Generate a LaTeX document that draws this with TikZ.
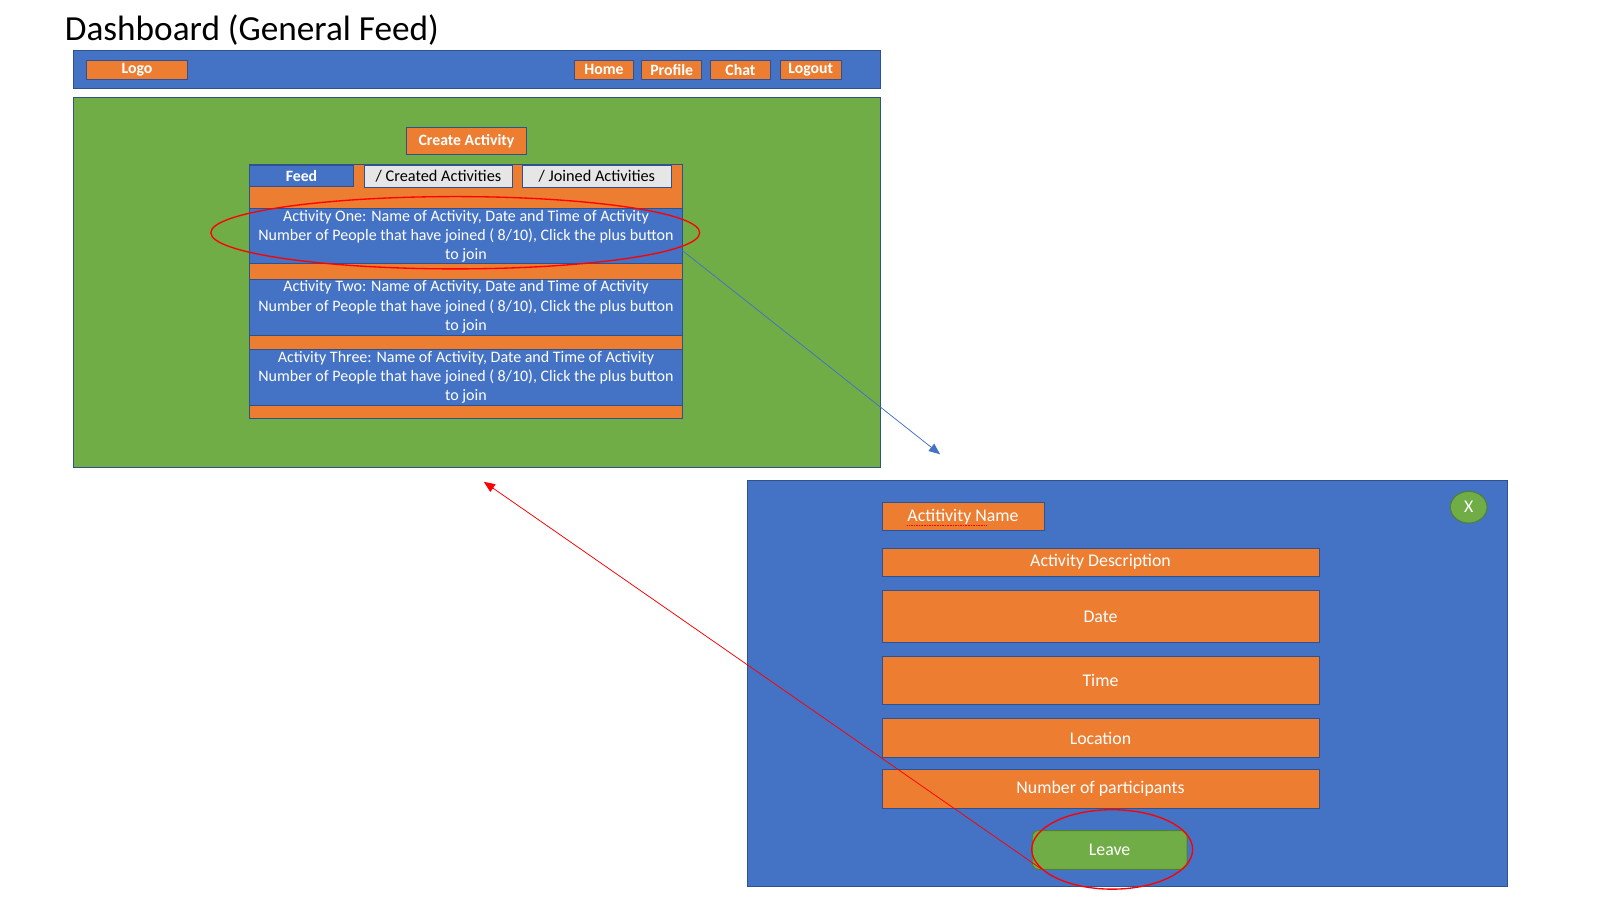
\documentclass[tikz,border=0pt]{standalone}
\usepackage{fontspec}
\setmainfont{Carlito}
\usetikzlibrary{arrows.meta,shapes.geometric}
\definecolor{pblue}{HTML}{4472C4}
\definecolor{pborder}{HTML}{2F528F}
\definecolor{porange}{HTML}{ED7D31}
\definecolor{pgreen}{HTML}{70AD47}
\definecolor{pgborder}{HTML}{507E32}
\definecolor{pgray}{HTML}{E7E6E6}
\definecolor{pred}{HTML}{FF0000}
\tikzset{
  base/.style={rectangle, draw=pborder, line width=0.9pt, inner sep=0pt, outer sep=0pt, align=center},
  bluebox/.style={base, fill=pblue, text=white},
  orangebox/.style={base, fill=porange, text=white},
  greenbox/.style={base, fill=pgreen, text=white},
  graybox/.style={base, fill=pgray, text=black},
  navtxt/.style={font=\fontsize{15.5}{18}\selectfont\bfseries},
  tabtxt/.style={font=\fontsize{16}{18}\selectfont},
  acttxt/.style={font=\fontsize{15.7}{19}\selectfont},
  poptxt/.style={font=\fontsize{17.5}{20}\selectfont},
  hilite/.style={draw=pred, line width=1.3pt, ellipse},
  linkarrow/.style={line width=0.7pt, -{Triangle[length=11pt,width=9pt]}},
}
\begin{document}
\begin{tikzpicture}[x=1pt,y=-1pt]
\useasboundingbox (0,0) rectangle (1568,881.7);
% title
\node[anchor=base west, inner sep=0pt, font=\fontsize{34.6}{40}\selectfont] (title) at (63.5,40) {Dashboard (General Feed)};
% top bar
\node[bluebox, minimum width=792, minimum height=37] (bar) at (468,68.5) {};
\node[orangebox, navtxt, minimum width=99, minimum height=19] (logo) at (134.5,68.5) {Logo};
\node[orangebox, navtxt, minimum width=58, minimum height=19] (home) at (593,68.5) {Home};
\node[orangebox, navtxt, minimum width=59, minimum height=19] (profile) at (659.5,68.5) {Profile};
\node[orangebox, navtxt, minimum width=58, minimum height=19] (chat) at (727,68.5) {Chat};
\node[orangebox, navtxt, minimum width=60, minimum height=19] (logout) at (796,68.5) {Logout};
% green area
\node[greenbox, minimum width=792, minimum height=363] (area) at (468,277.5) {};
\node[orangebox, navtxt, minimum width=118, minimum height=27] (create) at (458,138.5) {Create Activity};
\node[orangebox, minimum width=425, minimum height=250] (list) at (457.5,286) {};
\node[bluebox, navtxt, minimum width=102, minimum height=21] (feed) at (296,172.5) {Feed};
\node[graybox, tabtxt, minimum width=145, minimum height=22] (created) at (430.5,173) {/ Created Activities};
\node[graybox, tabtxt, minimum width=146, minimum height=22] (joined) at (586,173) {/ Joined Activities};
\node[bluebox, acttxt, minimum width=425, minimum height=54] (act1) at (457.5,232) {Activity One: Name of Activity, Date and Time of Activity\\Number of People that have joined ( 8/10), Click the plus button\\to join};
\node[bluebox, acttxt, minimum width=425, minimum height=55] (act2) at (457.5,301.5) {Activity Two: Name of Activity, Date and Time of Activity\\Number of People that have joined ( 8/10), Click the plus button\\to join};
\node[bluebox, acttxt, minimum width=425, minimum height=55] (act3) at (457.5,370.5) {Activity Three: Name of Activity, Date and Time of Activity\\Number of People that have joined ( 8/10), Click the plus button\\to join};
\node[hilite, minimum width=480, minimum height=71, inner sep=0pt] (ring1) at (447,228.5) {};
% popup
\node[bluebox, minimum width=746, minimum height=398] (popup) at (1107,671) {};
\node[ellipse, draw=pgborder, fill=pgreen, text=white, line width=0.9pt, minimum width=36, minimum height=31, inner sep=0pt, poptxt] (close) at (1442,498) {X};
\node[orangebox, poptxt, minimum width=159, minimum height=28] (aname) at (945.5,507) {Actitivity Name};
\draw[pred, line width=0.6pt, densely dotted] ([xshift=-54.5pt,yshift=-8.5pt]aname.center) -- ([xshift=22.5pt,yshift=-8.5pt]aname.center);
\node[orangebox, poptxt, minimum width=429, minimum height=28] (desc) at (1080.5,552) {Activity Description};
\node[orangebox, poptxt, minimum width=429, minimum height=51] (date) at (1080.5,605.5) {Date};
\node[orangebox, poptxt, minimum width=429, minimum height=47] (time) at (1080.5,668.5) {Time};
\node[orangebox, poptxt, minimum width=429, minimum height=39] (loc) at (1080.5,724.5) {Location};
\node[orangebox, poptxt, minimum width=429, minimum height=39] (num) at (1080.5,774.5) {Number of participants};
\node[rectangle, rounded corners=6pt, draw=pgborder, fill=pgreen, text=white, line width=0.9pt, inner sep=0pt, minimum width=152, minimum height=38, poptxt] (leave) at (1089.5,834.5) {Leave};
\node[hilite, minimum width=158, minimum height=78, inner sep=0pt] (ring2) at (1092,834) {};
% connectors
\coordinate (bend) at (923,446);
\coordinate (back) at (475,473);
\draw[linkarrow, draw=pblue, fill=pblue] ([yshift=-14pt]act1.east) -- (bend);
\draw[linkarrow, draw=pred, fill=pred] (ring2.195) -- (back);
\end{tikzpicture}
\end{document}
